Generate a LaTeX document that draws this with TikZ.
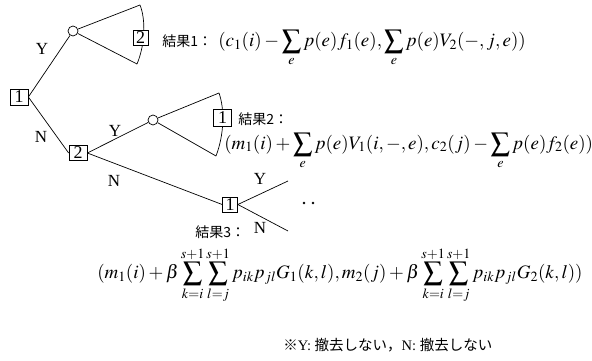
\documentclass[tikz,border=0pt]{standalone}
\usepackage{mathptmx}
\usepackage[no-math]{fontspec}
\setmainfont{Liberation Serif}
\newfontfamily\jp{Noto Sans CJK JP}
\begin{document}
\begin{tikzpicture}[x=1pt,y=-1pt,line width=0.7pt,
  box/.style={draw, fill=white, inner sep=0pt, font=\fontsize{18}{18}\selectfont},
  chance/.style={draw, circle, minimum size=10pt, inner sep=0pt},
  lbl/.style={font=\fontsize{17}{17}\selectfont, inner sep=0pt},
  jtxt/.style={font=\jp\fontsize{14}{16}\selectfont, inner sep=0pt},
  formula/.style={inner sep=0pt, font=\fontsize{19}{22}\selectfont}]
\useasboundingbox (0,0) rectangle (592,361);
% decision / chance nodes
\node[box, minimum width=18pt, minimum height=16pt] (b1) at (19,97) {1};
\node[chance] (c1) at (73,31) {};
\node[box, minimum width=18pt, minimum height=15pt] (b2m) at (78,153) {2};
\node[chance] (c2) at (153,120) {};
\coordinate (a1t) at (140,5);
\coordinate (a1b) at (137,64);
\coordinate (a2t) at (219,93);
\coordinate (a2b) at (216,156);
\coordinate (yend) at (288,181);
\coordinate (nend) at (288,231);
% connectors
\draw (b1.east) -- (c1);
\draw (b1.east) -- (b2m.west);
\draw (c1) -- (a1t);
\draw (c1) -- (a1b);
\draw (a1t) .. controls (146,20) and (145,45) .. (a1b);
\draw (b2m.east) -- (c2);
\draw (c2) -- (a2t);
\draw (c2) -- (a2b);
\draw (a2t) .. controls (225,110) and (224,135) .. (a2b);
\node[box, minimum width=15pt, minimum height=15pt] (b2t) at (140.5,37.5) {2};
\node[box, minimum width=18pt, minimum height=17pt] (b1m) at (222.5,118) {1};
\node[box, minimum width=15pt, minimum height=15pt] (b1b) at (230,204.5) {1};
\draw (b2m.east) -- (b1b.west);
\draw (b1b.east) -- (yend);
\draw (b1b.east) -- (nend);
\fill (304,203) circle (1.4);
\fill (313,203) circle (1.4);
% branch labels
\node[lbl] (ly1) at (42,49) {Y};
\node[lbl] (ln1) at (41,137) {N};
\node[lbl] (ly2) at (115,131) {Y};
\node[lbl] (ln2) at (114,181) {N};
\node[lbl] (ly3) at (260,179) {Y};
\node[lbl] (ln3) at (260,228) {N};
% results
\node[jtxt, anchor=west] (r1) at (162,41) {結果1：};
\node[formula, anchor=west] (f1) at (218,48.5) {$(c_1(i)-\displaystyle\sum_e p(e)f_1(e),\sum_e p(e)V_2(-,j,e))$};
\node[jtxt, anchor=west] (r2) at (238,119) {結果2：};
\node[formula, anchor=west] (f2) at (224,151) {$(m_1(i)+\displaystyle\sum_e p(e)V_1(i,-,e),c_2(j)-\sum_e p(e)f_2(e))$};
\node[jtxt, anchor=west] (r3) at (195,232) {結果3：};
\node[formula, anchor=west] (f3) at (97,275) {$(m_1(i)+\beta\displaystyle\sum_{k=i}^{s+1}\sum_{l=j}^{s+1}p_{ik}p_{jl}G_1(k,l),m_2(j)+\beta\sum_{k=i}^{s+1}\sum_{l=j}^{s+1}p_{ik}p_{jl}G_2(k,l))$};
\node[inner sep=0pt, anchor=west, font=\fontsize{14.5}{16}\selectfont] (note) at (283,345) {{\jp ※}Y: {\jp 撤去しない，}N: {\jp 撤去しない}};
\end{tikzpicture}
\end{document}
